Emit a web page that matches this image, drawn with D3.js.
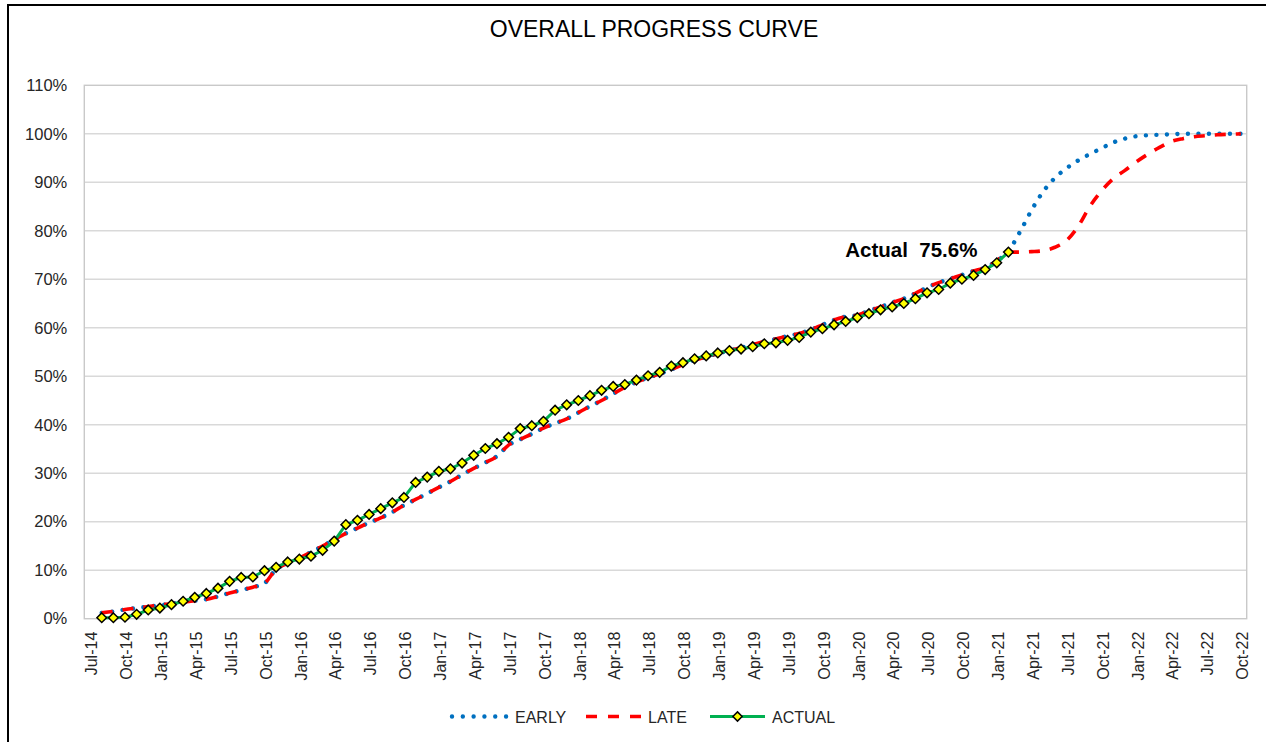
<!DOCTYPE html>
<html>
<head>
<meta charset="utf-8">
<script src="https://cdn.jsdelivr.net/npm/d3@7"></script>
<style>
  html, body { margin: 0; padding: 0; background: #fff; }
  svg { display: block; }
  text { font-family: "Liberation Sans", Arial, sans-serif; }
</style>
</head>
<body>
<svg id="chart" width="1266" height="742"></svg>
<script>
// ---------- DATA ----------
const title = "OVERALL PROGRESS CURVE";
const firstMonth = new Date(2014, 6, 1);   // Jul-14 (first category)
const lastMonth  = new Date(2022, 9, 1);   // Oct-22 (last category)
const seriesStart = "Aug-14";              // all series start here

const tickLabels = ["Jul-14","Oct-14","Jan-15","Apr-15","Jul-15","Oct-15","Jan-16","Apr-16","Jul-16","Oct-16",
  "Jan-17","Apr-17","Jul-17","Oct-17","Jan-18","Apr-18","Jul-18","Oct-18","Jan-19","Apr-19","Jul-19","Oct-19",
  "Jan-20","Apr-20","Jul-20","Oct-20","Jan-21","Apr-21","Jul-21","Oct-21","Jan-22","Apr-22","Jul-22","Oct-22"];

const yTicks = [0,0.1,0.2,0.3,0.4,0.5,0.6,0.7,0.8,0.9,1.0,1.1];

// percent values, monthly from Aug-14
const earlyValues = [1.2,1.5,1.9,2.2,2.5,2.8,3.1,3.4,3.7,4.0,4.6,5.3,5.9,6.5,7.3,10.2,11.4,12.5,13.7,15.0,
  16.3,17.6,18.7,19.8,20.8,22.0,23.4,24.6,25.8,27.1,28.3,29.7,31.0,32.2,33.5,35.8,37.0,38.1,39.3,40.3,
  41.2,42.5,43.8,45.0,46.4,47.7,48.8,49.7,50.5,51.4,52.4,53.3,54.0,54.7,55.3,55.9,56.5,57.2,57.7,58.3,
  58.8,59.6,60.6,61.6,62.3,62.6,63.5,64.3,65.2,66.0,67.1,68.3,69.3,70.1,70.9,71.7,72.4,73.8,75.8,79.8,
  84.3,88.1,90.9,92.9,94.5,95.8,97.0,98.2,99.0,99.5,99.7,99.8,99.9,100,100,100,100,100,100];

const lateValues = [1.2,1.5,1.9,2.2,2.5,2.8,3.1,3.4,3.7,4.0,4.6,5.3,5.9,6.5,7.3,10.2,11.4,12.5,13.7,15.0,
  16.3,17.6,18.7,19.8,20.8,22.0,23.4,24.6,25.8,27.1,28.3,29.7,31.0,32.2,33.5,35.8,37.0,38.1,39.3,40.3,
  41.2,42.5,43.8,45.0,46.4,47.7,48.8,49.7,50.5,51.4,52.4,53.3,54.0,54.7,55.3,55.9,56.5,57.2,57.7,58.3,
  58.8,59.6,60.6,61.6,62.3,62.6,63.5,64.3,65.2,66.0,67.1,68.3,69.3,70.1,70.9,71.7,72.4,73.8,75.6,75.6,
  75.7,75.9,76.6,78.0,80.9,85.0,88.2,90.7,92.4,94.2,95.8,97.2,98.4,99.0,99.4,99.6,99.8,99.9,100];

const actualValues = [0.2,0.2,0.3,0.9,1.8,2.2,2.9,3.6,4.4,5.2,6.3,7.7,8.5,8.6,9.9,10.6,11.7,12.3,12.9,14.1,
  16.0,19.4,20.3,21.5,22.7,23.9,25.0,28.1,29.2,30.4,30.9,32.1,33.7,35.1,36.1,37.4,39.2,39.8,40.7,43.0,
  44.1,45.0,46.0,47.1,47.9,48.3,49.2,50.1,50.8,52.1,52.8,53.6,54.2,54.8,55.3,55.6,56.1,56.7,56.9,57.4,
  58.0,59.1,59.8,60.6,61.3,62.1,62.9,63.7,64.3,65.0,66.0,67.2,67.9,69.2,70.0,70.8,72.0,73.4,75.6];

const annotationText = "Actual  75.6%";
const legendNames = ["EARLY","LATE","ACTUAL"];

// ---------- CHART ----------
const fmtMonth = d3.timeFormat("%b-%y");
const months = d3.timeMonth.range(firstMonth, d3.timeMonth.offset(lastMonth, 1)).map(fmtMonth);
const startIdx = months.indexOf(seriesStart);

const svg = d3.select("#chart");
const L = 84.3, R = 1246.7, T = 85.3, B = 618.7;

const x = d3.scaleBand().domain(months).range([L, R]).padding(0);
const cx = m => x(m) + x.bandwidth() / 2;
const y = d3.scaleLinear().domain([0, 1.1]).range([B, T]);

// outer chart frame
svg.append("rect").attr("x", 8).attr("y", 5).attr("width", 1400).attr("height", 900)
  .attr("fill", "#fff").attr("stroke", "#000").attr("stroke-width", 2);

// title
svg.append("text").attr("x", 654).attr("y", 37).attr("text-anchor", "middle")
  .attr("font-size", 23).attr("fill", "#000").text(title);

// gridlines
svg.append("g").selectAll("line").data(yTicks.filter(v => v > 0 && v < 1.1)).join("line")
  .attr("x1", L).attr("x2", R).attr("y1", d => y(d)).attr("y2", d => y(d))
  .attr("stroke", "#D9D9D9").attr("stroke-width", 1.4);

// plot area border
svg.append("rect").attr("x", L).attr("y", T).attr("width", R - L).attr("height", B - T)
  .attr("fill", "none").attr("stroke", "#C9C9C9").attr("stroke-width", 1.4);

// y axis labels
const yAxis = d3.axisLeft(y).tickValues(yTicks).tickFormat(d3.format(".0%")).tickSize(0).tickPadding(17);
const gy = svg.append("g").attr("transform", `translate(${L},0)`).call(yAxis);
gy.select(".domain").remove();
gy.selectAll("text").attr("font-size", 16.5).attr("fill", "#262626")
  .attr("font-family", "'Liberation Sans', Arial, sans-serif");

// x axis labels (rotated)
svg.append("g").selectAll("text").data(tickLabels).join("text")
  .attr("transform", d => `translate(${cx(d) + 1.5},${B + 13}) rotate(-90)`)
  .attr("text-anchor", "end").attr("dy", "0.36em")
  .attr("font-size", 16).attr("fill", "#262626").text(d => d);

// series
const toPts = vals => vals.map((v, i) => ({ m: months[startIdx + i], v: v / 100 }));
const early = toPts(earlyValues), late = toPts(lateValues), actual = toPts(actualValues);

const smooth = d3.line().x(d => cx(d.m)).y(d => y(d.v)).curve(d3.curveMonotoneX);
const straight = d3.line().x(d => cx(d.m)).y(d => y(d.v));

svg.append("path").datum(early).attr("d", smooth).attr("fill", "none")
  .attr("stroke", "#0070C0").attr("stroke-width", 4.4).attr("stroke-linecap", "round")
  .attr("stroke-dasharray", "0.01 10.5");

svg.append("path").datum(late).attr("d", smooth).attr("fill", "none")
  .attr("stroke", "#FF0000").attr("stroke-width", 3.6).attr("stroke-linecap", "butt")
  .attr("stroke-dasharray", "11 10");

svg.append("path").datum(actual).attr("d", straight).attr("fill", "none")
  .attr("stroke", "#00B050").attr("stroke-width", 3);

const diamond = (px, py, r) => `M${px},${py - r}L${px + r},${py}L${px},${py + r}L${px - r},${py}Z`;
svg.append("g").selectAll("path").data(actual).join("path")
  .attr("d", d => diamond(cx(d.m), y(d.v), 4.8))
  .attr("fill", "#FFFF00").attr("stroke", "#000").attr("stroke-width", 1.5);

// annotation
const lastPt = actual[actual.length - 1];
svg.append("text").attr("x", cx(lastPt.m) - 31).attr("y", y(lastPt.v) + 5)
  .attr("text-anchor", "end").attr("font-size", 20.5).attr("font-weight", "bold")
  .attr("fill", "#000").style("white-space", "pre").text(annotationText);

// legend
const ly = 716.5;
const lg = svg.append("g");
lg.append("line").attr("x1", 452).attr("x2", 508).attr("y1", ly).attr("y2", ly)
  .attr("stroke", "#0070C0").attr("stroke-width", 4.4).attr("stroke-linecap", "round")
  .attr("stroke-dasharray", "0.01 10.8");
lg.append("line").attr("x1", 586).attr("x2", 641).attr("y1", ly).attr("y2", ly)
  .attr("stroke", "#FF0000").attr("stroke-width", 3.6).attr("stroke-dasharray", "11 11");
lg.append("line").attr("x1", 710).attr("x2", 765).attr("y1", ly).attr("y2", ly)
  .attr("stroke", "#00B050").attr("stroke-width", 3);
lg.append("path").attr("d", diamond(737.5, ly, 4.6)).attr("fill", "#FFFF00")
  .attr("stroke", "#000").attr("stroke-width", 1.5);
const lx = [515, 648, 772];
lg.selectAll("text").data(legendNames).join("text")
  .attr("x", (d, i) => lx[i]).attr("y", ly + 6).attr("font-size", 16)
  .attr("fill", "#262626").text(d => d);
</script>
</body>
</html>
